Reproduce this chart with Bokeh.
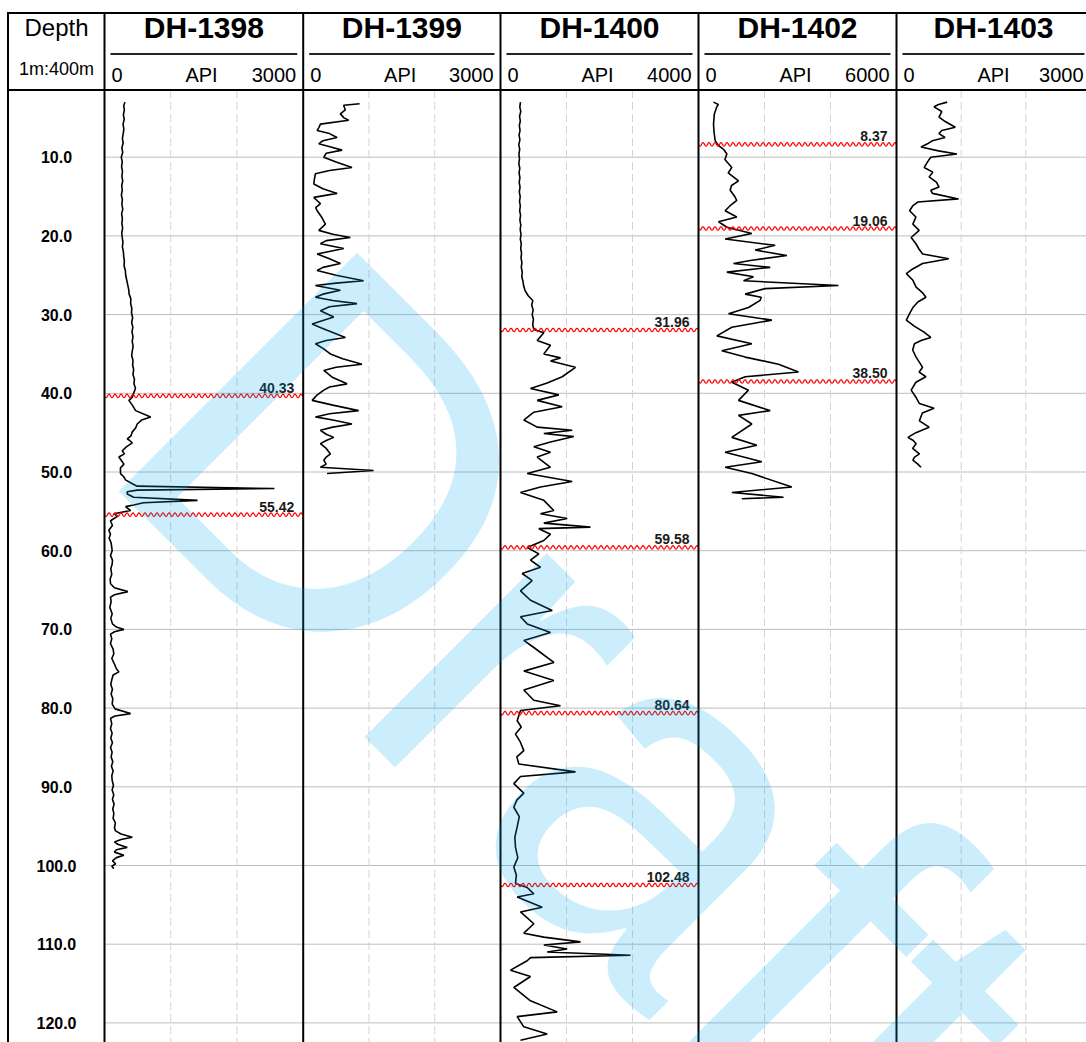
import numpy as np
from bokeh.plotting import figure
from bokeh.models import Range1d
from bokeh.embed import file_html
from bokeh.resources import INLINE
from bokeh.core.properties import value

# ---------------- data ----------------
wells = ["DH-1398", "DH-1399", "DH-1400", "DH-1402", "DH-1403"]
scale_max = [3000, 3000, 4000, 6000, 3000]
scale_unit = "API"
depth_ticks = [10, 20, 30, 40, 50, 60, 70, 80, 90, 100, 110, 120]
depth_title = "Depth"
depth_scale = "1m:400m"

dh1398_depth = [3.0, 3.5, 4.0, 4.6, 5.2, 5.8, 6.4, 7.0, 7.6, 8.2, 8.8, 9.4, 10.0, 10.6, 11.2, 11.8, 12.4, 13.0,
                13.6, 14.2, 14.8, 15.4, 16.0, 16.6, 17.2, 17.8, 18.4, 19.0, 19.6, 20.2, 20.8, 21.4, 22.0, 22.6,
                23.2, 23.8, 24.4, 25.0, 25.6, 26.2, 26.8, 27.4, 28.0, 28.6, 29.2, 29.8, 30.4, 31.0, 31.6, 32.2,
                32.8, 33.4, 34.0, 34.6, 35.2, 35.8, 36.4, 37.0, 37.6, 38.2, 38.8, 39.4, 40.0, 40.5, 40.9, 41.5,
                42.2, 43.0, 43.4, 43.9, 44.4, 44.9, 45.4, 45.8, 46.0, 46.3, 46.8, 47.3, 47.7, 48.1, 48.6, 49.0,
                49.5, 50.2, 50.6, 51.0, 51.5, 51.8, 52.1, 52.3, 52.5, 52.8, 53.2, 53.6, 53.9, 54.2, 54.4, 54.9,
                55.3, 55.6, 56.2, 56.8, 57.4, 57.9, 58.4, 59.0, 60.0, 60.6, 61.2, 61.7, 62.3, 63.0, 63.6, 64.2,
                64.7, 65.2, 65.6, 65.9, 66.5, 67.2, 68.0, 68.6, 69.3, 69.7, 70.0, 70.3, 70.6, 71.2, 71.8, 72.5,
                73.1, 73.7, 74.4, 75.0, 75.4, 75.8, 76.4, 77.0, 77.6, 78.2, 78.8, 79.5, 80.1, 80.7, 81.0, 81.3,
                82.0, 82.6, 83.2, 83.8, 84.4, 85.0, 85.6, 86.2, 86.8, 87.4, 88.0, 88.6, 89.2, 89.8, 90.4, 91.0,
                91.6, 92.2, 92.8, 93.4, 94.0, 94.6, 95.2, 95.6, 96.0, 96.4, 96.7, 97.0, 97.3, 97.7, 98.0, 98.3,
                98.7, 99.0, 99.4, 99.8, 100.1, 100.4]
dh1398_api = [308, 290, 300, 285, 298, 280, 292, 283, 270, 282, 262, 275, 253, 268, 258, 272, 262, 275,
              260, 268, 255, 270, 262, 276, 258, 270, 262, 274, 260, 268, 278, 270, 285, 290,
              300, 295, 315, 320, 335, 350, 365, 372, 398, 395, 412, 408, 425, 410, 428, 415,
              430, 418, 432, 420, 410, 430, 425, 440, 430, 452, 445, 468, 440, 420, 368, 420,
              470, 697, 560, 494, 470, 420, 400, 343, 380, 420, 330, 268, 300, 217, 260, 293,
              240, 242, 290, 318, 420, 494, 2565, 494, 343, 343, 440, 1404, 590, 440, 318, 394,
              141, 200, 91, 120, 65, 90, 70, 100, 116, 90, 120, 116, 95, 110, 85, 91,
              150, 353, 150, 91, 100, 80, 116, 95, 120, 180, 293, 150, 91, 110, 90, 130,
              141, 110, 150, 180, 217, 130, 110, 95, 120, 100, 125, 116, 160, 394, 160, 91,
              110, 90, 115, 95, 120, 91, 115, 100, 125, 105, 130, 110, 116, 135, 115, 140,
              120, 145, 125, 141, 130, 165, 150, 167, 250, 420, 250, 150, 200, 343, 180, 150,
              293, 180, 120, 167, 110, 141]

dh1399_depth = [3.2, 3.4, 4.0, 4.5, 5.0, 5.3, 5.8, 6.2, 6.6, 7.0, 7.5, 7.9, 8.3, 8.7, 9.1, 9.5, 10.0, 10.6,
                11.3, 11.7, 12.1, 12.8, 13.4, 14.0, 14.6, 15.1, 15.5, 15.9, 16.4, 16.8, 17.6, 18.5, 19.3,
                19.8, 20.2, 20.6, 21.0, 21.6, 22.3, 22.9, 23.5, 24.0, 24.4, 25.0, 25.7, 26.0, 26.3, 26.9,
                27.4, 27.8, 28.2, 28.6, 29.0, 29.5, 30.3, 31.2, 31.6, 32.0, 32.9, 33.3, 33.7, 34.3, 35.0,
                35.6, 36.3, 36.7, 37.1, 38.0, 38.8, 39.2, 39.6, 40.3, 40.9, 41.5, 42.2, 42.6, 43.0, 43.4,
                43.9, 44.3, 44.7, 45.2, 45.6, 46.0, 46.4, 47.0, 47.7, 48.1, 48.5, 49.0, 49.4, 49.8, 50.2]
dh1399_api = [858, 615, 640, 565, 620, 691, 262, 240, 212, 400, 515, 300, 237, 420, 591, 350, 313, 500,
              742, 400, 186, 170, 161, 300, 515, 161, 210, 262, 190, 212, 280, 338, 237,
              450, 717, 350, 262, 616, 212, 400, 565, 300, 212, 500, 918, 500, 186, 565,
              300, 186, 450, 818, 400, 262, 464, 136, 250, 363, 641, 350, 186, 300, 414,
              600, 893, 500, 313, 450, 666, 400, 313, 200, 136, 450, 843, 400, 186, 450,
              742, 450, 262, 350, 464, 350, 262, 350, 414, 350, 313, 350, 262, 1070, 363]

dh1400_depth = [3.0, 3.6, 4.2, 4.8, 5.4, 6.0, 6.6, 7.2, 7.8, 8.4, 9.0, 9.6, 10.2, 10.8, 11.4, 12.0, 12.6,
                13.2, 13.8, 14.4, 15.0, 15.6, 16.2, 16.8, 17.4, 18.0, 18.6, 19.2, 19.8, 20.4, 21.0, 21.6,
                22.2, 22.8, 23.4, 24.0, 24.6, 25.2, 25.8, 26.4, 27.0, 27.6, 28.2, 28.8, 29.4, 30.0, 30.6,
                31.3, 31.9, 32.3, 33.3, 33.9, 35.0, 35.5, 35.9, 36.7, 37.9, 38.7, 39.4, 40.2, 40.9, 41.7,
                42.4, 43.4, 44.3, 44.7, 45.1, 45.5, 46.2, 46.8, 47.5, 48.1, 49.4, 50.2, 51.2, 51.9, 52.6,
                53.6, 54.9, 55.3, 55.9, 56.5, 57.0, 57.2, 57.9, 58.7, 59.6, 60.4, 61.2, 62.1, 62.9, 63.8,
                65.1, 66.3, 67.6, 68.4, 69.3, 70.4, 71.4, 72.3, 74.2, 75.3, 76.5, 77.7, 79.0, 79.7, 80.3,
                81.6, 82.4, 83.3, 84.3, 85.4, 86.2, 87.1, 88.1, 88.7, 89.6, 90.8, 91.7, 92.6, 93.8, 95.1,
                96.4, 97.7, 99.0, 100.2, 101.2, 102.3, 102.8, 103.6, 104.0, 105.3, 105.9, 107.4, 108.6,
                109.1, 109.7, 110.1, 110.6, 111.0, 111.4, 111.7, 112.1, 113.3, 114.1, 115.5, 117.2, 118.6,
                119.2, 120.5, 121.4, 122.2]
dh1400_api = [404, 390, 410, 385, 400, 380, 395, 375, 392, 370, 388, 372, 384, 370, 390, 375, 392,
              378, 395, 380, 398, 385, 400, 388, 405, 392, 410, 398, 415, 400, 420, 408,
              425, 415, 432, 420, 440, 430, 455, 470, 500, 560, 653, 630, 660, 640, 665,
              650, 673, 875, 741, 1010, 875, 1212, 1010, 1515, 1246, 943, 606, 1178, 741, 1246,
              673, 471, 741, 1448, 875, 1481, 1010, 673, 1010, 741, 1010, 539, 1448, 808, 404,
              875, 1077, 808, 1347, 875, 1818, 774, 1010, 875, 539, 774, 606, 808, 438, 640,
              404, 606, 1044, 404, 539, 1010, 471, 673, 1077, 471, 1077, 471, 673, 1212, 404,
              337, 420, 303, 400, 471, 330, 370, 1515, 404, 269, 471, 330, 269, 380, 337,
              290, 303, 350, 269, 320, 303, 539, 673, 337, 842, 404, 673, 471,
              875, 1616, 875, 1347, 943, 2626, 606, 539, 202, 606, 269, 606, 1145,
              337, 471, 943, 404]

dh1402_depth = [3.0, 3.3, 3.6, 4.5, 5.8, 6.8, 7.9, 8.5, 9.0, 9.6, 10.3, 11.3, 12.0, 13.0, 13.6, 14.2, 15.0,
                15.5, 16.2, 16.8, 17.6, 18.2, 18.9, 19.7, 20.4, 21.2, 21.8, 22.5, 23.1, 23.5, 24.0, 24.6,
                25.2, 25.7, 26.3, 26.7, 27.4, 27.8, 28.2, 29.1, 29.9, 30.7, 31.6, 32.7, 33.7, 34.6, 35.4,
                36.3, 37.3, 37.9, 38.6, 39.6, 40.9, 42.2, 42.8, 43.9, 45.6, 46.6, 47.5, 48.7, 49.4, 50.2,
                51.9, 52.6, 53.2, 53.4]
dh1402_api = [455, 600, 555, 480, 455, 470, 505, 600, 760, 859, 800, 1010, 900, 1212, 1000, 960, 1100,
              1160, 950, 808, 1160, 606, 859, 1616, 808, 2323, 1717, 2677, 1616, 1060, 2172, 859,
              1667, 1364, 4240, 2020, 1414, 1900, 1869, 1515, 909, 2222, 1010, 556, 1616, 707, 1414,
              2424, 3030, 1414, 1010, 1515, 1212, 2172, 1212, 1616, 1010, 1768, 808, 1919, 808, 1616,
              2828, 1010, 2576, 1313]

dh1403_depth = [3.0, 3.3, 3.6, 4.2, 4.9, 5.5, 6.2, 6.6, 7.0, 7.5, 7.9, 8.3, 8.7, 9.2, 9.6, 10.0, 10.6, 11.3,
                11.9, 12.5, 13.2, 13.8, 14.2, 14.6, 15.3, 15.7, 16.2, 16.8, 17.6, 18.5, 19.3, 20.2, 21.0,
                21.7, 22.3, 22.9, 23.5, 24.2, 24.8, 25.6, 26.5, 27.2, 27.8, 28.4, 29.1, 29.9, 30.7, 31.5,
                32.2, 32.9, 33.3, 33.7, 34.5, 35.4, 36.0, 36.7, 37.3, 37.9, 38.6, 39.6, 40.5, 41.3, 41.9,
                42.5, 43.5, 44.3, 45.0, 45.6, 46.0, 46.4, 47.0, 47.7, 48.1, 48.5, 49.0, 49.4]
dh1403_api = [783, 650, 581, 700, 657, 760, 909, 700, 657, 750, 556, 480, 379, 650, 934, 530, 480, 429,
              560, 505, 620, 657, 530, 556, 959, 328, 250, 202, 300, 253, 350, 227, 300,
              350, 404, 808, 404, 250, 152, 250, 303, 400, 455, 330, 253, 200, 152, 280,
              420, 530, 380, 278, 250, 303, 350, 404, 350, 455, 300, 227, 300, 354, 581,
              400, 354, 505, 300, 177, 260, 303, 250, 354, 280, 253, 330, 379]

dh1398_tops = [40.33, 55.42]
dh1399_tops = []
dh1400_tops = [31.96, 59.58, 80.64, 102.48]
dh1402_tops = [8.37, 19.06, 38.50]
dh1403_tops = []

watermark_text = "Draft"

curves_depth = [dh1398_depth, dh1399_depth, dh1400_depth, dh1402_depth, dh1403_depth]
curves_api = [dh1398_api, dh1399_api, dh1400_api, dh1402_api, dh1403_api]
tops = [dh1398_tops, dh1399_tops, dh1400_tops, dh1402_tops, dh1403_tops]

# ---------------- layout (window pixels) ----------------
WX0, WX1, WY0, WY1 = 0, 1086, 0, 1042
PX_PER_M = 7.87
Y_DEPTH0 = 78.0          # window y of depth 0
EDGES = [104, 302.7, 500, 698, 896, 1090]
LEFT_X = 7.5
TOP_Y = 12.5
UNDER_Y = 53.5
HEAD_Y = 89.5
FONT = value("Liberation Sans")

p = figure(width=WX1 - WX0, height=WY1 - WY0,
           x_range=Range1d(WX0, WX1),
           y_range=Range1d((WY1 - Y_DEPTH0) / PX_PER_M, (WY0 - Y_DEPTH0) / PX_PER_M),
           output_backend="svg", toolbar_location=None,
           x_axis_location=None, y_axis_location=None,
           min_border=0, outline_line_color=None)
p.xgrid.visible = False
p.ygrid.visible = False
p.background_fill_color = "white"
p.border_fill_color = "white"
p.extra_y_ranges = {"px": Range1d(WY1, WY0)}

# per-track value ranges mapped onto each track's pixel span
for i, m in enumerate(scale_max):
    L, R = EDGES[i], EDGES[i + 1]
    p.extra_x_ranges[f"t{i}"] = Range1d((WX0 - L) / (R - L) * m, (WX1 - L) / (R - L) * m)

# horizontal depth grid
p.segment(x0=[EDGES[0]] * len(depth_ticks), x1=[WX1] * len(depth_ticks),
          y0=depth_ticks, y1=depth_ticks, line_color="#BDBDBD", line_width=1)

# vertical dashed lines at 1/3 and 2/3 of each scale
for i, m in enumerate(scale_max):
    xs = [m / 3, 2 * m / 3]
    p.segment(x0=xs, x1=xs, y0=[HEAD_Y] * 2, y1=[WY1] * 2,
              x_range_name=f"t{i}", y_range_name="px",
              line_color="#D4D4D4", line_width=1, line_dash="8 4")

# curves
for i in range(len(wells)):
    p.line(x=curves_api[i], y=curves_depth[i], x_range_name=f"t{i}",
           line_color="black", line_width=1.6)

# formation tops: wavy red line + label
amp = 1.8 / PX_PER_M
for i, tl in enumerate(tops):
    L, R = EDGES[i], min(EDGES[i + 1], WX1)
    for t in tl:
        xs = np.arange(L, R + 0.25, 0.5)
        ys = t + amp * np.sin(2 * np.pi * (xs - L) / 6.0)
        p.line(x=xs, y=ys, line_color="#FF0000", line_width=1.2)
    if tl:
        p.text(x=[EDGES[i + 1] - 9] * len(tl), y=tl, text=["%.2f" % t for t in tl],
               text_align="right", text_baseline="bottom", y_offset=-3,
               text_font=FONT, text_font_style="bold", text_font_size="14px",
               text_color="#1a1a1a")

# depth labels
p.text(x=[56] * len(depth_ticks), y=depth_ticks, text=["%.1f" % d for d in depth_ticks],
       text_align="center", text_baseline="middle", text_font=FONT,
       text_font_style="bold", text_font_size="16px", text_color="black")

# borders
bx = [LEFT_X] + EDGES[:5]
p.segment(x0=bx, x1=bx, y0=[TOP_Y - 1] * len(bx), y1=[WY1] * len(bx), y_range_name="px",
          line_color="black", line_width=2)
p.segment(x0=[LEFT_X - 1, LEFT_X - 1], x1=[WX1, WX1], y0=[TOP_Y, HEAD_Y], y1=[TOP_Y, HEAD_Y],
          y_range_name="px", line_color="black", line_width=2)

# header texts
p.text(x=[56], y=[27], text=[depth_title], y_range_name="px", text_align="center",
       text_baseline="middle", text_font=FONT, text_font_size="24px", text_color="black")
p.text(x=[56], y=[68], text=[depth_scale], y_range_name="px", text_align="center",
       text_baseline="middle", text_font=FONT, text_font_size="18px", text_color="black")
for i, w in enumerate(wells):
    L, R = EDGES[i], EDGES[i + 1]
    p.text(x=[(L + R) / 2], y=[27], text=[w], y_range_name="px", text_align="center",
           text_baseline="middle", text_font=FONT, text_font_style="bold",
           text_font_size="30px", text_color="black")
    p.segment(x0=[L + 6], x1=[R - 6], y0=[UNDER_Y], y1=[UNDER_Y], y_range_name="px",
              line_color="#222222", line_width=2)
    p.text(x=[L + 7], y=[74], text=["0"], y_range_name="px", text_align="left",
           text_baseline="middle", text_font=FONT, text_font_size="20px", text_color="black")
    p.text(x=[L + 97], y=[74], text=[scale_unit], y_range_name="px", text_align="center",
           text_baseline="middle", text_font=FONT, text_font_size="20px", text_color="black")
    p.text(x=[R - 7], y=[74], text=[str(scale_max[i])], y_range_name="px", text_align="right",
           text_baseline="middle", text_font=FONT, text_font_size="20px", text_color="black")

# watermark
p.text(x=[210], y=[342], text=[watermark_text], y_range_name="px", angle=-45, angle_units="deg",
       text_align="left", text_baseline="alphabetic", text_font=FONT, text_font_size="490px",
       text_color="#00AAF0", text_alpha=0.2)

open("out.html", "w").write(file_html(p, INLINE))
